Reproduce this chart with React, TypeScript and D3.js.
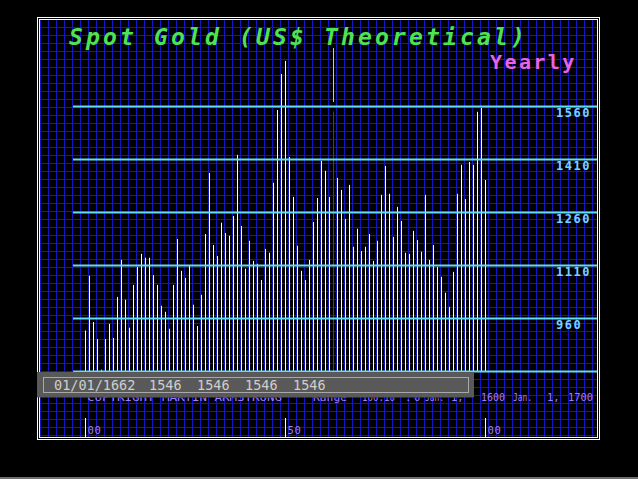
import React from "react";
import * as d3 from "d3";

const years: number[] = d3.range(1600, 1701);
const prices: number[] = [
  926, 1081, 950, 902, 815, 902, 945, 905, 1021, 1126,
  1013, 934, 1055, 1106, 1143, 1132, 1132, 1083, 1055, 996,
  979, 931, 1055, 1185, 1095, 1075, 1109, 999, 939, 1027,
  1199, 1372, 1168, 1137, 1231, 1202, 1194, 1250, 1423, 1222,
  1101, 1180, 1123, 1115, 1069, 1157, 1146, 1344, 1550, 1652,
  1689, 1417, 1304, 1166, 1095, 1069, 1126, 1233, 1301, 1406,
  1378, 1304, 1546, 1358, 1324, 1242, 1338, 1163, 1214, 1151,
  1163, 1199, 1123, 1180, 1310, 1392, 1313, 1191, 1276, 1236,
  1146, 1143, 1208, 1182, 1149, 1310, 1126, 1168, 1106, 1078,
  1033, 993, 1092, 1313, 1395, 1298, 1403, 1395, 1545, 1556,
  1352,
];
const levelTicks: number[] = [810, 960, 1110, 1260, 1410, 1560];
const yearTicks: number[] = [1600, 1650, 1700];
const yearTickLabels: string[] = ["00", "50", "00"];
const cursorYear = 1662;
const cursorDate = "01/01/1662";
const cursorValues: number[] = [1546, 1546, 1546, 1546];
const titleText = "Spot Gold (US$ Theoretical)";
const periodText = "Yearly";

const W = 638;
const H = 479;

export default function App() {
  const x = d3.scaleLinear().domain([1600, 1700]).range([85, 485]);
  const y = d3.scaleLinear().domain([810, 1560]).range([371.5, 106.5]);

  const gridX = d3.range(40, 597, 8);
  const gridY = d3.range(27, 437, 8);

  const cx = Math.round(x(cursorYear)) + 0.5;
  const cursorVal = prices[years.indexOf(cursorYear)];

  const footer: [string, number, number?][] = [
    ["COPYRIGHT MARTIN ARMSTRONG", 87, 195],
    ["Range", 313, 34],
    ["100.10", 362, 33],
    [":", 405],
    ["0", 414],
    ["Jan.", 425, 19],
    ["1,", 451],
    ["1600", 481, 24],
    ["Jan.", 513, 19],
    ["1,", 547],
    ["1700", 568, 25],
  ];

  return (
    <div style={{ position: "fixed", left: 0, top: 0, width: W, height: H, background: "#000" }}>
      <svg width={W} height={H} style={{ display: "block" }}>
        <defs>
          <clipPath id="footClip">
            <rect x={37} y={397.5} width={562} height={20} />
            <rect x={474} y={385} width={125} height={30} />
          </clipPath>
        </defs>
        <rect x={0} y={0} width={W} height={H} fill="#000" />
        <rect x={0} y={477} width={W} height={2} fill="#6e6e6e" />
        {/* grid */}
        <g stroke="#1414c4" strokeWidth={1}>
          {gridX.map((gx) => (
            <line key={"gx" + gx} x1={gx + 0.5} x2={gx + 0.5} y1={20} y2={437} />
          ))}
          {gridY.map((gy) => (
            <line key={"gy" + gy} x1={40} x2={597} y1={gy + 0.5} y2={gy + 0.5} />
          ))}
        </g>
        {/* frame */}
        <rect x={37.5} y={17.5} width={562} height={422} fill="none" stroke="#fff" strokeWidth={1} />
        <rect x={39.5} y={19.5} width={558} height={418} fill="none" stroke="#fff" strokeWidth={1} />

        {/* title */}
        <text
          x={69}
          y={45}
          fill="#4fe350"
          fontFamily="'DejaVu Sans Mono', monospace"
          fontWeight="bold"
          fontStyle="italic"
          fontSize={23}
          letterSpacing={3.15}
        >
          {titleText}
        </text>
        <text
          x={490}
          y={68.5}
          fill="#e864e6"
          fontFamily="'DejaVu Sans Mono', monospace"
          fontWeight="bold"
          fontSize={20}
          letterSpacing={2.4}
        >
          {periodText}
        </text>

        {/* bars */}
        <g stroke="#ffffff" strokeWidth={1}>
          {years.map((yr, i) =>
            yr === cursorYear ? null : (
              <line
                key={"b" + yr}
                x1={Math.round(x(yr)) + 0.5}
                x2={Math.round(x(yr)) + 0.5}
                y1={y(810)}
                y2={y(prices[i])}
              />
            )
          )}
        </g>
        {/* cursor */}
        <line x1={cx} x2={cx} y1={48} y2={102} stroke="#9ee09e" strokeWidth={1} />
        <line x1={cx} x2={cx} y1={y(810)} y2={y(cursorVal)} stroke="#a01c1c" strokeWidth={1} />

        {/* level lines */}
        <g>
          {levelTicks.map((v) => (
            <line key={"l" + v} x1={73} x2={597} y1={y(v)} y2={y(v)} stroke="#62dcf0" strokeWidth={2} />
          ))}
        </g>
        <g
          fill="#74d4ff"
          fontFamily="'DejaVu Sans Mono', monospace"
          fontWeight="bold"
          fontSize={12}
          letterSpacing={1.5}
        >
          {levelTicks
            .filter((v) => v > 810)
            .map((v) => (
              <text key={"t" + v} x={556} y={y(v) + 10}>
                {String(v)}
              </text>
            ))}
        </g>

        {/* footer text (partially hidden behind the info box) */}
        <g fill="#a07cff" fontFamily="'DejaVu Sans Mono', monospace" fontSize={10.5} clipPath="url(#footClip)">
          {footer.map(([t, fx, fw], i) => (
            <text
              key={"f" + i}
              x={fx}
              y={401}
              {...(fw ? { textLength: fw, lengthAdjust: "spacingAndGlyphs" } : {})}
            >
              {t}
            </text>
          ))}
        </g>

        {/* info box */}
        <rect x={37} y={372} width={437} height={25.5} fill="#595959" />
        <rect x={43.5} y={377.5} width={425} height={15} fill="none" stroke="#a8a8a8" strokeWidth={1} />
        <g fill="#cfcfcf" fontFamily="'DejaVu Sans Mono', monospace" fontSize={13.5}>
          <text x={54} y={390}>
            {cursorDate}
          </text>
          {cursorValues.map((v, i) => (
            <text key={"cv" + i} x={149 + i * 48} y={390}>
              {String(v)}
            </text>
          ))}
        </g>

        {/* year axis */}
        <g>
          {yearTicks.map((yr, i) => (
            <g key={"yt" + yr}>
              <line
                x1={Math.round(x(yr)) + 0.5}
                x2={Math.round(x(yr)) + 0.5}
                y1={418}
                y2={437}
                stroke="#fff"
                strokeWidth={1}
              />
              <text
                x={Math.round(x(yr)) + 2.5}
                y={433.5}
                fill="#a87cf0"
                fontFamily="'DejaVu Sans Mono', monospace"
                fontSize={10.5}
                letterSpacing={0.6}
              >
                {yearTickLabels[i]}
              </text>
            </g>
          ))}
        </g>
      </svg>
    </div>
  );
}
